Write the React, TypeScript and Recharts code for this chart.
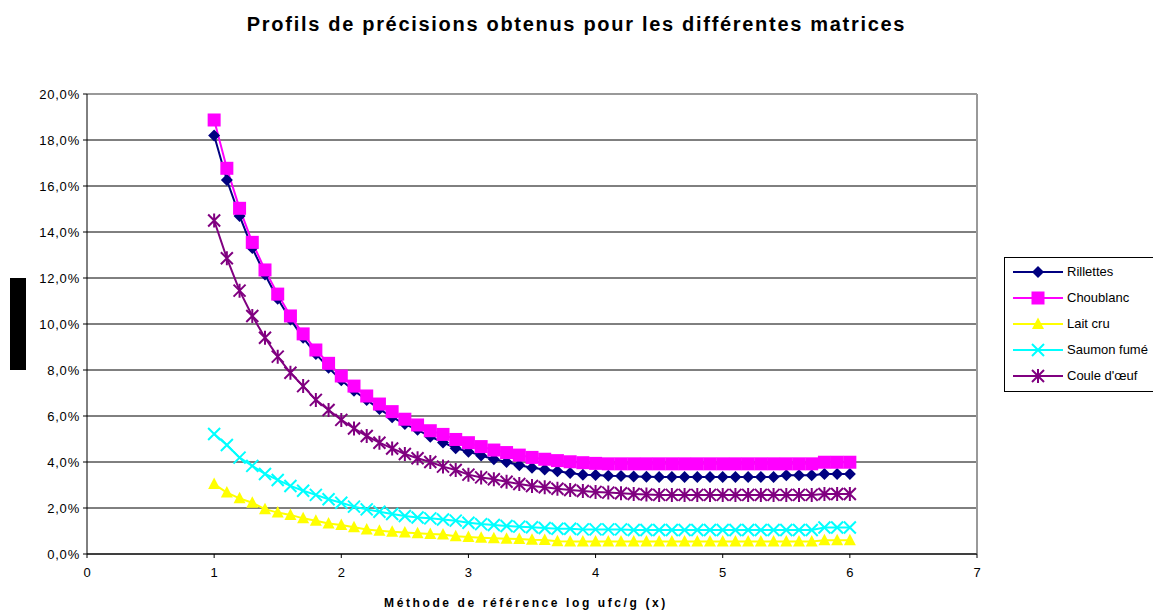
import React from "react";
import { LineChart, Line, XAxis, YAxis, CartesianGrid, ReferenceLine } from "recharts";

const xValues = [
  1.0, 1.1, 1.2, 1.3, 1.4, 1.5, 1.6, 1.7, 1.8, 1.9,
  2.0, 2.1, 2.2, 2.3, 2.4, 2.5, 2.6, 2.7, 2.8, 2.9,
  3.0, 3.1, 3.2, 3.3, 3.4, 3.5, 3.6, 3.7, 3.8, 3.9,
  4.0, 4.1, 4.2, 4.3, 4.4, 4.5, 4.6, 4.7, 4.8, 4.9,
  5.0, 5.1, 5.2, 5.3, 5.4, 5.5, 5.6, 5.7, 5.8, 5.9, 6.0,
];

// values in %
const rillettes = [
  18.2, 16.26, 14.7, 13.3, 12.15, 11.1, 10.2, 9.4, 8.7, 8.1,
  7.55, 7.1, 6.7, 6.3, 5.95, 5.65, 5.4, 5.1, 4.85, 4.6,
  4.45, 4.28, 4.12, 4.0, 3.86, 3.75, 3.67, 3.6, 3.52, 3.45,
  3.43, 3.4, 3.39, 3.37, 3.36, 3.35, 3.35, 3.35, 3.35, 3.35,
  3.35, 3.35, 3.35, 3.35, 3.35, 3.42, 3.42, 3.42, 3.48, 3.48, 3.48,
];
const choublanc = [
  18.87, 16.77, 15.03, 13.55, 12.35, 11.3, 10.35, 9.57, 8.87, 8.29,
  7.74, 7.3, 6.87, 6.52, 6.19, 5.86, 5.61, 5.36, 5.2, 4.98,
  4.84, 4.67, 4.52, 4.41, 4.3, 4.2, 4.12, 4.06, 4.01, 3.97,
  3.94, 3.92, 3.92, 3.92, 3.92, 3.92, 3.92, 3.92, 3.92, 3.92,
  3.92, 3.92, 3.92, 3.92, 3.92, 3.92, 3.92, 3.92, 3.99, 3.99, 3.99,
];
const laitCru = [
  3.04, 2.67, 2.42, 2.23, 1.95, 1.8, 1.7, 1.55, 1.45, 1.33,
  1.26, 1.16, 1.07, 1.01, 0.97, 0.93, 0.9, 0.87, 0.85, 0.77,
  0.74, 0.71, 0.69, 0.66, 0.65, 0.62, 0.61, 0.55, 0.54, 0.54,
  0.54, 0.54, 0.54, 0.54, 0.54, 0.54, 0.54, 0.54, 0.54, 0.54,
  0.54, 0.54, 0.54, 0.54, 0.54, 0.54, 0.54, 0.54, 0.6, 0.6, 0.6,
];
const saumonFume = [
  5.22, 4.74, 4.19, 3.83, 3.48, 3.22, 2.96, 2.75, 2.57, 2.38,
  2.23, 2.06, 1.94, 1.84, 1.74, 1.65, 1.59, 1.55, 1.5, 1.45,
  1.36, 1.3, 1.26, 1.22, 1.19, 1.16, 1.13, 1.1, 1.1, 1.07,
  1.07, 1.07, 1.07, 1.04, 1.04, 1.04, 1.04, 1.04, 1.04, 1.04,
  1.04, 1.04, 1.04, 1.04, 1.04, 1.04, 1.04, 1.04, 1.15, 1.15, 1.15,
];
const couleOeuf = [
  14.5, 12.86, 11.45, 10.35, 9.4, 8.58, 7.88, 7.3, 6.7, 6.26,
  5.83, 5.46, 5.13, 4.84, 4.59, 4.35, 4.16, 4.0, 3.8, 3.65,
  3.45, 3.33, 3.25, 3.14, 3.04, 2.96, 2.9, 2.84, 2.78, 2.74,
  2.7, 2.67, 2.64, 2.61, 2.59, 2.57, 2.57, 2.57, 2.57, 2.57,
  2.57, 2.57, 2.57, 2.57, 2.57, 2.57, 2.57, 2.57, 2.61, 2.61, 2.61,
];

const xTicks = [0, 1, 2, 3, 4, 5, 6, 7];
const yTicks = [0, 2, 4, 6, 8, 10, 12, 14, 16, 18, 20];

const data = xValues.map((x, i) => ({
  x,
  rillettes: rillettes[i],
  choublanc: choublanc[i],
  laitCru: laitCru[i],
  saumonFume: saumonFume[i],
  couleOeuf: couleOeuf[i],
}));

type Shape = "diamond" | "square" | "triangle" | "cross" | "star";

const Marker = ({ cx, cy, shape, color }: { cx: number; cy: number; shape: Shape; color: string }) => {
  if (shape === "diamond") {
    return <path d={`M${cx},${cy - 6}L${cx + 6},${cy}L${cx},${cy + 6}L${cx - 6},${cy}Z`} fill={color} />;
  }
  if (shape === "square") {
    return <rect x={cx - 6.5} y={cy - 6.5} width={13} height={13} fill={color} />;
  }
  if (shape === "triangle") {
    return <path d={`M${cx},${cy - 6.5}L${cx + 6},${cy + 5}L${cx - 6},${cy + 5}Z`} fill={color} />;
  }
  if (shape === "cross") {
    return (
      <path
        d={`M${cx - 6},${cy - 6}L${cx + 6},${cy + 6}M${cx + 6},${cy - 6}L${cx - 6},${cy + 6}`}
        stroke={color}
        strokeWidth={2}
      />
    );
  }
  return (
    <path
      d={`M${cx - 6},${cy - 6}L${cx + 6},${cy + 6}M${cx + 6},${cy - 6}L${cx - 6},${cy + 6}M${cx},${cy - 7}L${cx},${cy + 7}`}
      stroke={color}
      strokeWidth={2}
    />
  );
};

const series: { key: string; name: string; color: string; shape: Shape }[] = [
  { key: "rillettes", name: "Rillettes", color: "#000080", shape: "diamond" },
  { key: "choublanc", name: "Choublanc", color: "#FF00FF", shape: "square" },
  { key: "laitCru", name: "Lait cru", color: "#FFFF00", shape: "triangle" },
  { key: "saumonFume", name: "Saumon fumé", color: "#00FFFF", shape: "cross" },
  { key: "couleOeuf", name: "Coule d'œuf", color: "#800080", shape: "star" },
];

const font = "'Liberation Sans', Arial, sans-serif";

export default function App() {
  return (
    <div style={{ position: "absolute", left: 0, top: 0, width: 1153, height: 612, background: "#fff", overflow: "hidden", fontFamily: font }}>
      <div style={{ position: "absolute", left: 0, width: 1153, top: 13, textAlign: "center", fontSize: 20, fontWeight: 700, letterSpacing: 1.7 }}>
        Profils de précisions obtenus pour les différentes matrices
      </div>
      <LineChart width={1153} height={612} data={data} margin={{ top: 94, right: 176, bottom: 0, left: 0 }}>
        <CartesianGrid horizontal={true} vertical={false} stroke="#000" strokeWidth={1} />
        <XAxis
          dataKey="x"
          type="number"
          domain={[0, 7]}
          ticks={xTicks}
          height={58}
          tickSize={4}
          tickMargin={10}
          stroke="#000"
          tick={{ fill: "#000", fontSize: 13, fontFamily: font }}
        />
        <YAxis
          type="number"
          domain={[0, 20]}
          ticks={yTicks}
          width={87}
          tickSize={4}
          tickMargin={3}
          stroke="#000"
          tickFormatter={(v: number) => v.toFixed(1).replace(".", ",") + "%"}
          tick={{ fill: "#000", fontSize: 13, fontFamily: font, letterSpacing: 0.8 }}
        />
        <ReferenceLine y={20} stroke="#999" strokeWidth={2} />
        <ReferenceLine x={7} stroke="#999" strokeWidth={2} />
        {series.map((s) => (
          <Line
            key={s.key}
            dataKey={s.key}
            stroke={s.color}
            strokeWidth={2}
            isAnimationActive={false}
            dot={(p: any) => <Marker key={p.index} cx={p.cx} cy={p.cy} shape={s.shape} color={s.color} />}
            activeDot={false}
          />
        ))}
      </LineChart>
      <div
        style={{
          position: "absolute",
          left: 10,
          top: 278,
          width: 16,
          height: 92,
          background: "#000",
          color: "#000",
          writingMode: "vertical-rl",
          transform: "rotate(180deg)",
          fontSize: 11,
          fontWeight: 700,
          overflow: "hidden",
          textAlign: "center",
        }}
      >
        Précision
      </div>
      <div
        style={{
          position: "absolute",
          left: 0,
          width: 1052,
          top: 596,
          textAlign: "center",
          fontSize: 12,
          fontWeight: 700,
          letterSpacing: 2.6,
        }}
      >
        Méthode de référence log ufc/g (x)
      </div>
      <div
        style={{
          position: "absolute",
          left: 1004,
          top: 257,
          width: 160,
          height: 135,
          border: "1px solid #000",
          boxSizing: "border-box",
        }}
      >
        <svg width={160} height={135} style={{ position: "absolute", left: 0, top: 0 }}>
          {series.map((s, i) => (
            <g key={s.key}>
              <line x1={8} x2={58} y1={14 + i * 26} y2={14 + i * 26} stroke={s.color} strokeWidth={2} />
              <Marker cx={33} cy={14 + i * 26} shape={s.shape} color={s.color} />
              <text x={62} y={18 + i * 26} fontSize={13} fontFamily={font} fill="#000">
                {s.name}
              </text>
            </g>
          ))}
        </svg>
      </div>
    </div>
  );
}
